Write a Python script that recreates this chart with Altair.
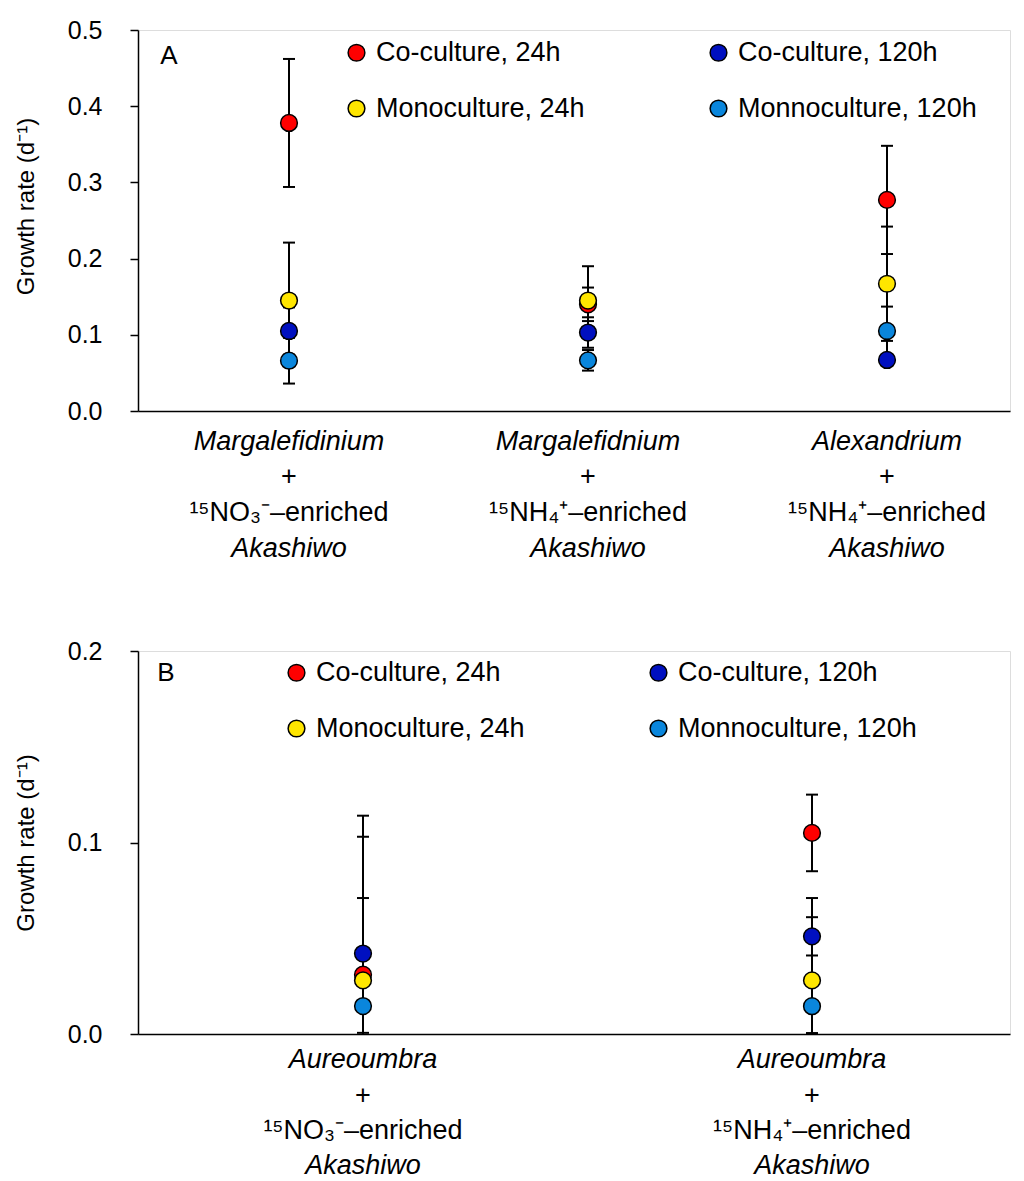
import altair as alt
import pandas as pd

FONT = "Liberation Sans"

# ---- series (drawing order; legend fills column by column) ----
series = ["Co-culture, 24h", "Monoculture, 24h", "Co-culture, 120h", "Monnoculture, 120h"]
series_colors = ["#FF0000", "#FFE600", "#0010C0", "#0A86DC"]

# ---- panel A ----
a_top = ["Margalefidinium", "Margalefidnium", "Alexandrium"]
a_nut = ["¹⁵NO₃⁻–enriched", "¹⁵NH₄⁺–enriched", "¹⁵NH₄⁺–enriched"]
a_prey = ["Akashiwo", "Akashiwo", "Akashiwo"]
a_mean = {
    "Co-culture, 24h": [0.378, 0.140, 0.277],
    "Monoculture, 24h": [0.145, 0.145, 0.167],
    "Co-culture, 120h": [0.105, 0.103, 0.067],
    "Monnoculture, 120h": [0.066, 0.0665, 0.105],
}
a_err = {
    "Co-culture, 24h": [0.084, 0.022, 0.071],
    "Monoculture, 24h": [0.076, 0.045, 0.075],
    "Co-culture, 120h": [0.031, 0.020, 0.006],
    "Monnoculture, 120h": [0.030, 0.0135, 0.032],
}
a_yticks = [0.0, 0.1, 0.2, 0.3, 0.4, 0.5]

# ---- panel B ----
b_top = ["Aureoumbra", "Aureoumbra"]
b_nut = ["¹⁵NO₃⁻–enriched", "¹⁵NH₄⁺–enriched"]
b_prey = ["Akashiwo", "Akashiwo"]
b_mean = {
    "Co-culture, 24h": [0.031, 0.105],
    "Monoculture, 24h": [0.028, 0.028],
    "Co-culture, 120h": [0.042, 0.051],
    "Monnoculture, 120h": [0.0146, 0.0145],
}
b_err = {
    "Co-culture, 24h": [0.072, 0.020],
    "Monoculture, 24h": [0.043, 0.043],
    "Co-culture, 120h": [0.072, 0.010],
    "Monnoculture, 120h": [0.014, 0.014],
}
b_yticks = [0.0, 0.1, 0.2]

W = 872


def panel(tops, nuts, preys, means, errs, xdom, ymax, yticks, H, letter,
          letter_xy, leg_xy, label_offsets, title_y=None):
    rows = []
    for s in series:
        for i in range(len(tops)):
            m = means[s][i]
            e = errs[s][i]
            rows.append({"pos": i, "series": s, "mean": m, "lo": m - e, "hi": m + e})
    df = pd.DataFrame(rows)
    lab = pd.DataFrame({"pos": list(range(len(tops))), "top": tops,
                        "plus": ["+"] * len(tops), "nut": nuts, "prey": preys})

    xenc = alt.X("pos:Q", scale=alt.Scale(domain=xdom, nice=False, zero=False),
                 axis=alt.Axis(labels=False, ticks=False, grid=False, title=None,
                               domainColor="black", domainWidth=1.5))
    axis_kw = dict(values=yticks, format=".1f", title="Growth rate (d⁻¹)", grid=False,
                   domainColor="black", domainWidth=1.5, tickColor="black", tickWidth=1.5,
                   tickSize=8, labelPadding=28, labelFontSize=25, labelColor="black",
                   labelFont=FONT, titleFont=FONT, titleFontSize=24, titleFontWeight="normal",
                   titleColor="black", titlePadding=29)
    if title_y is not None:
        axis_kw["titleY"] = title_y
    yaxis = alt.Axis(**axis_kw)
    yscale = alt.Scale(domain=[0, ymax], nice=False, zero=True)

    def yenc(field):
        return alt.Y(f"{field}:Q", scale=yscale, axis=yaxis)

    base = alt.Chart(df)
    rule = base.mark_rule(color="black", strokeWidth=2, clip=True).encode(
        x=xenc, y=yenc("lo"), y2="hi:Q")
    cap_lo = base.mark_tick(orient="horizontal", color="black", thickness=2, size=12,
                            clip=True, opacity=1).encode(x=xenc, y=yenc("lo"))
    cap_hi = base.mark_tick(orient="horizontal", color="black", thickness=2, size=12,
                            clip=True, opacity=1).encode(x=xenc, y=yenc("hi"))
    pts = base.mark_circle(size=280, opacity=1, stroke="black", strokeWidth=1.5).encode(
        x=xenc, y=yenc("mean"),
        color=alt.Color("series:N",
                        scale=alt.Scale(domain=series, range=series_colors),
                        legend=alt.Legend(orient="none", legendX=leg_xy[0], legendY=leg_xy[1],
                                          columns=2, title=None, symbolType="circle",
                                          symbolSize=280, symbolStrokeColor="black",
                                          symbolStrokeWidth=1.5, symbolOpacity=1,
                                          labelFontSize=27, labelFont=FONT,
                                          labelColor="black", labelOffset=6,
                                          rowPadding=28, columnPadding=120, padding=0,
                                          labelLimit=400)))

    tb = alt.Chart(lab)
    txt_layers = []
    for field, style, off in zip(["top", "plus", "nut", "prey"],
                                 ["italic", "normal", "normal", "italic"], label_offsets):
        txt_layers.append(
            tb.mark_text(font=FONT, fontSize=27, fontStyle=style, color="black",
                         baseline="middle", align="center").encode(
                x=xenc, y=alt.value(H + off), text=f"{field}:N"))

    let = alt.Chart(pd.DataFrame({"t": [letter]})).mark_text(
        font=FONT, fontSize=26, color="black", baseline="middle", align="center").encode(
        x=alt.value(letter_xy[0]), y=alt.value(letter_xy[1]), text="t:N")

    return alt.layer(rule, cap_lo, cap_hi, pts, *txt_layers, let).properties(width=W, height=H)


pA = panel(a_top, a_nut, a_prey, a_mean, a_err, [-151 / 299, (W - 151) / 299], 0.5, a_yticks,
           381, "A", (31, 26), (205, 9), [31, 66, 102, 138], title_y=176)
pB = panel(b_top, b_nut, b_prey, b_mean, b_err, [-225 / 449, (W - 225) / 449], 0.2, b_yticks,
           383, "B", (28, 22), (145, 8), [26, 62, 97, 132])

chart = alt.vconcat(pA, pB, spacing=75).resolve_scale(
    x="independent", y="independent", color="independent"
).resolve_legend(color="independent").properties(
    padding={"left": 5, "top": 9, "right": 5, "bottom": 0}
).configure_view(stroke=None).configure(font=FONT)

chart.save("out.html", embed_options={"renderer": "svg", "actions": False})
